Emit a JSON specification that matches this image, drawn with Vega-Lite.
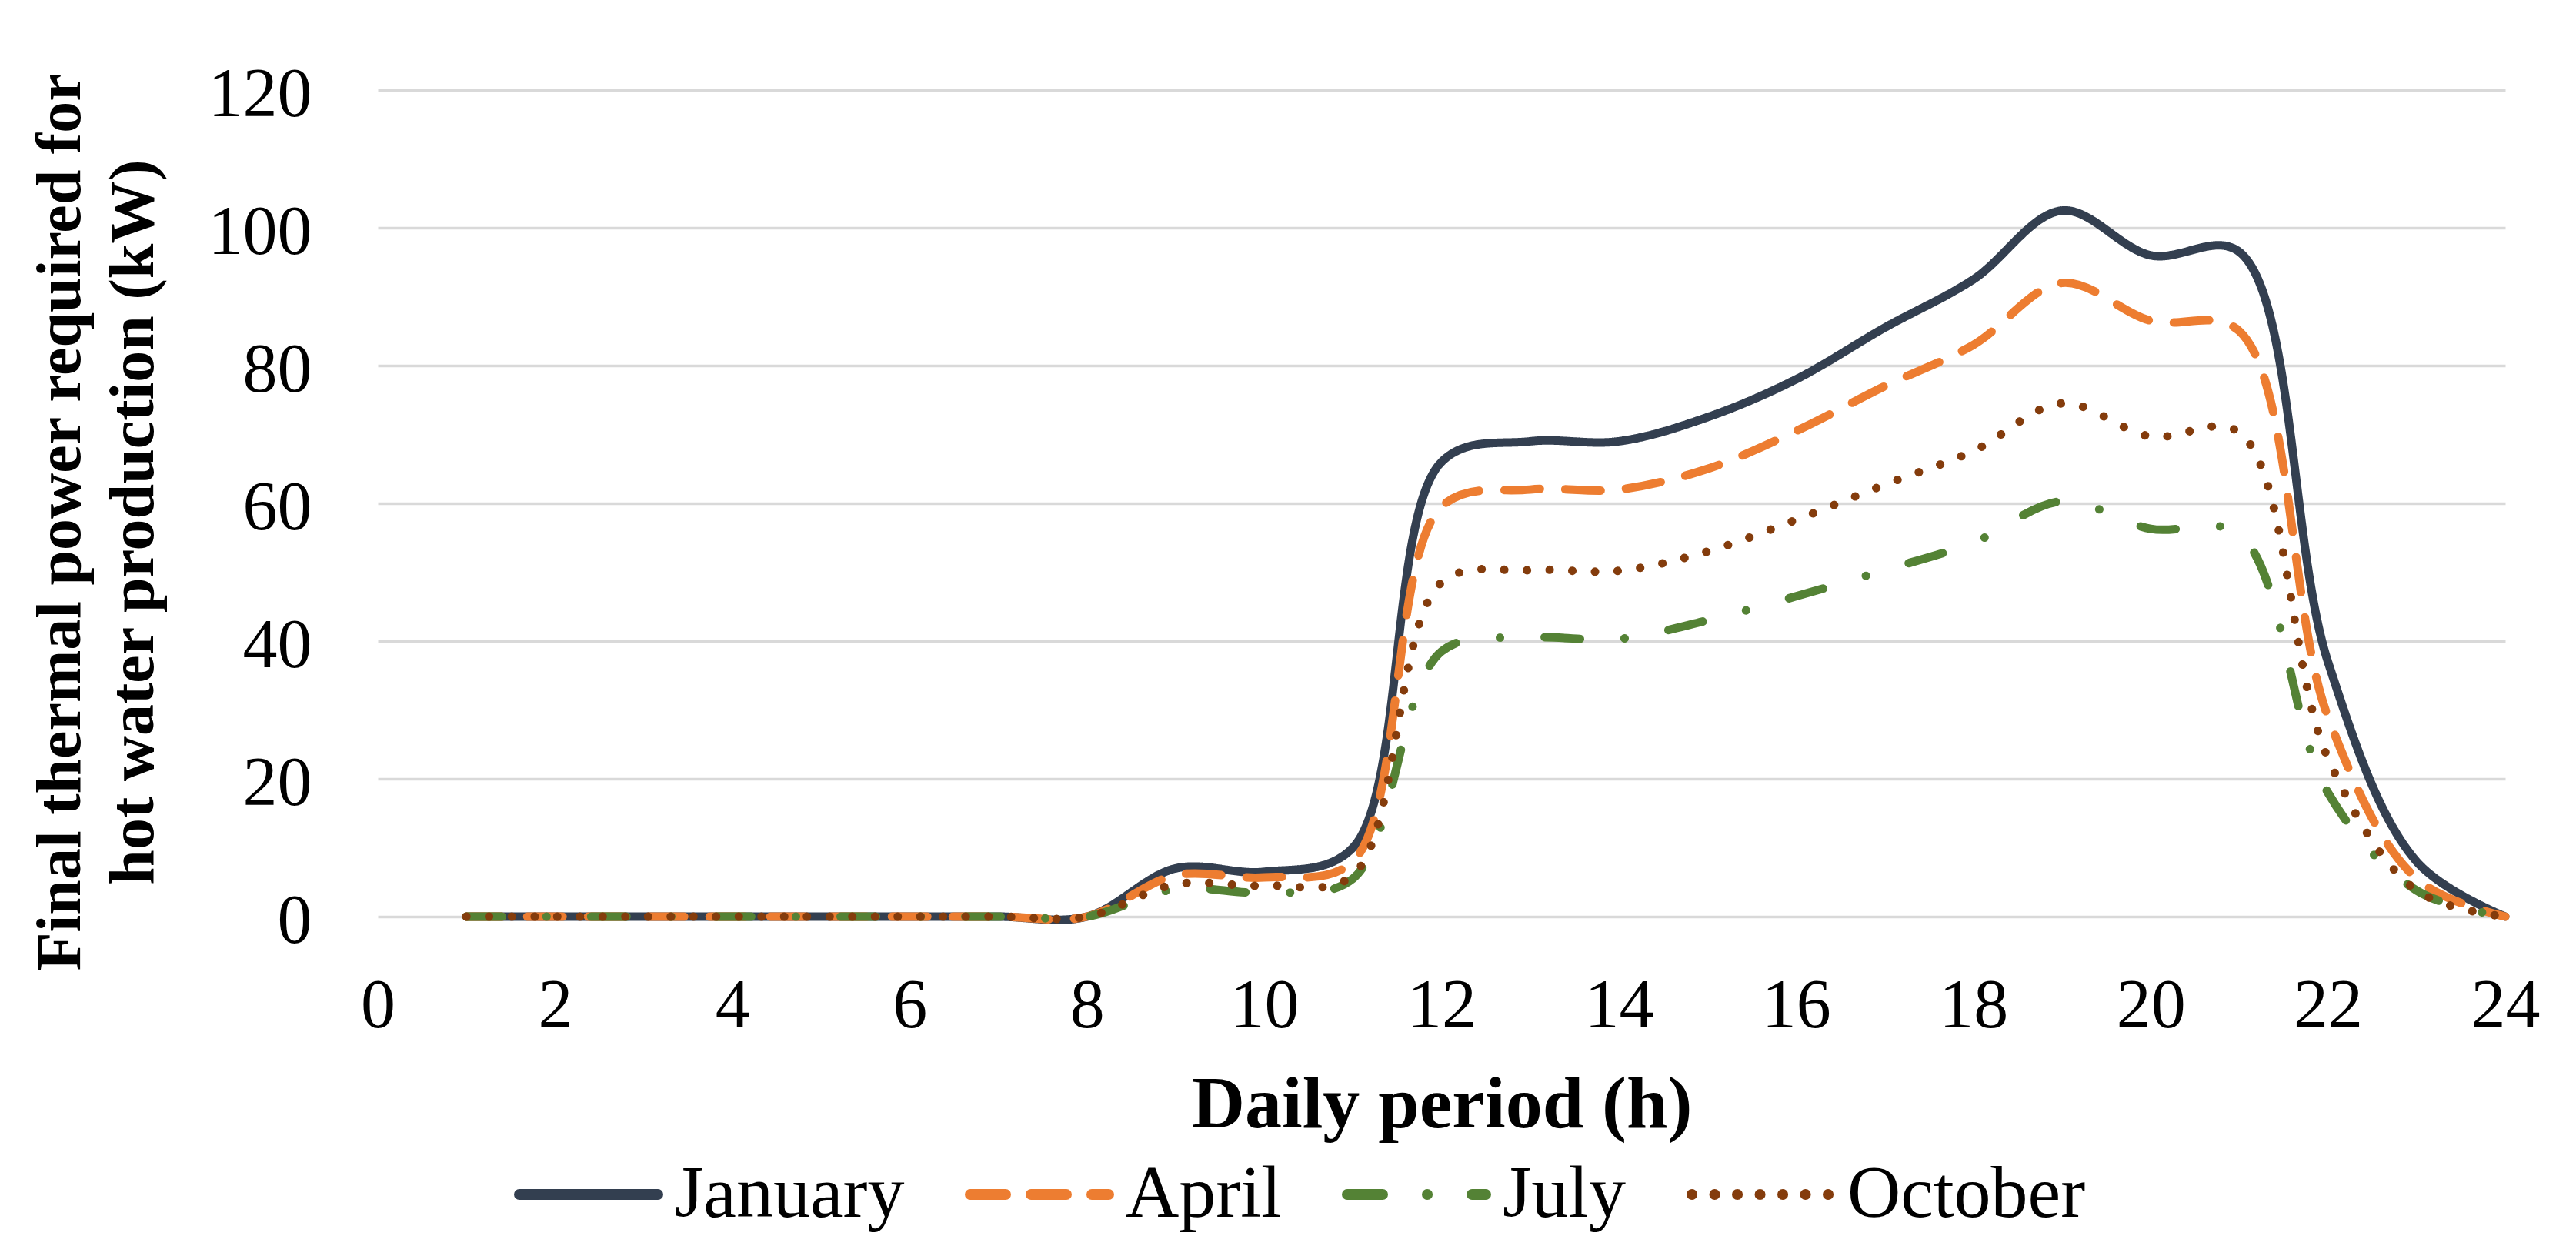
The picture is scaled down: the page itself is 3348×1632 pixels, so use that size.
{
  "$schema": "https://vega.github.io/schema/vega-lite/v6.json",
  "width": 2765,
  "height": 1074,
  "autosize": {"type": "none"},
  "padding": {"left": 491, "top": 117, "right": 92, "bottom": 441},
  "background": "white",
  "config": {"view": {"stroke": null}, "font": "Liberation Serif"},
  "data": {"values": [
    {"month":"January","hour":1,"power":0},{"month":"January","hour":2,"power":0},{"month":"January","hour":3,"power":0},{"month":"January","hour":4,"power":0},{"month":"January","hour":5,"power":0},{"month":"January","hour":6,"power":0},{"month":"January","hour":7,"power":0},{"month":"January","hour":8,"power":0},{"month":"January","hour":9,"power":7},{"month":"January","hour":10,"power":6.5},{"month":"January","hour":11,"power":10},{"month":"January","hour":12,"power":66},{"month":"January","hour":13,"power":69},{"month":"January","hour":14,"power":69},{"month":"January","hour":15,"power":72.5},{"month":"January","hour":16,"power":78},{"month":"January","hour":17,"power":85.5},{"month":"January","hour":18,"power":92.5},{"month":"January","hour":19,"power":102.5},{"month":"January","hour":20,"power":96},{"month":"January","hour":21,"power":96.5},{"month":"January","hour":22,"power":37},{"month":"January","hour":23,"power":8},{"month":"January","hour":24,"power":0},
    {"month":"April","hour":1,"power":0},{"month":"April","hour":2,"power":0},{"month":"April","hour":3,"power":0},{"month":"April","hour":4,"power":0},{"month":"April","hour":5,"power":0},{"month":"April","hour":6,"power":0},{"month":"April","hour":7,"power":0},{"month":"April","hour":8,"power":0},{"month":"April","hour":9,"power":6},{"month":"April","hour":10,"power":5.7},{"month":"April","hour":11,"power":8},{"month":"April","hour":12,"power":59.5},{"month":"April","hour":13,"power":62},{"month":"April","hour":14,"power":62},{"month":"April","hour":15,"power":65},{"month":"April","hour":16,"power":70.5},{"month":"April","hour":17,"power":77},{"month":"April","hour":18,"power":83},{"month":"April","hour":19,"power":92},{"month":"April","hour":20,"power":86.5},{"month":"April","hour":21,"power":85},{"month":"April","hour":22,"power":29},{"month":"April","hour":23,"power":5.5},{"month":"April","hour":24,"power":0},
    {"month":"July","hour":1,"power":0},{"month":"July","hour":2,"power":0},{"month":"July","hour":3,"power":0},{"month":"July","hour":4,"power":0},{"month":"July","hour":5,"power":0},{"month":"July","hour":6,"power":0},{"month":"July","hour":7,"power":0},{"month":"July","hour":8,"power":0},{"month":"July","hour":9,"power":4},{"month":"July","hour":10,"power":3.5},{"month":"July","hour":11,"power":5.5},{"month":"July","hour":12,"power":38.5},{"month":"July","hour":13,"power":40.5},{"month":"July","hour":14,"power":40.3},{"month":"July","hour":15,"power":43},{"month":"July","hour":16,"power":46.5},{"month":"July","hour":17,"power":50.3},{"month":"July","hour":18,"power":54.3},{"month":"July","hour":19,"power":60.3},{"month":"July","hour":20,"power":56.3},{"month":"July","hour":21,"power":55.5},{"month":"July","hour":22,"power":18},{"month":"July","hour":23,"power":3.8},{"month":"July","hour":24,"power":0},
    {"month":"October","hour":1,"power":0},{"month":"October","hour":2,"power":0},{"month":"October","hour":3,"power":0},{"month":"October","hour":4,"power":0},{"month":"October","hour":5,"power":0},{"month":"October","hour":6,"power":0},{"month":"October","hour":7,"power":0},{"month":"October","hour":8,"power":0},{"month":"October","hour":9,"power":4.7},{"month":"October","hour":10,"power":4.5},{"month":"October","hour":11,"power":6},{"month":"October","hour":12,"power":48.5},{"month":"October","hour":13,"power":50.3},{"month":"October","hour":14,"power":50.2},{"month":"October","hour":15,"power":53},{"month":"October","hour":16,"power":57.6},{"month":"October","hour":17,"power":62.7},{"month":"October","hour":18,"power":67.6},{"month":"October","hour":19,"power":74.5},{"month":"October","hour":20,"power":69.7},{"month":"October","hour":21,"power":70.3},{"month":"October","hour":22,"power":23},{"month":"October","hour":23,"power":3.8},{"month":"October","hour":24,"power":0}
  ]},
  "mark": {"type": "line", "interpolate": "catmull-rom", "strokeWidth": 11, "strokeCap": "round", "strokeJoin": "round"},
  "encoding": {
    "x": {
      "field": "hour", "type": "quantitative",
      "scale": {"domain": [0, 24], "nice": false, "zero": false},
      "axis": {
        "values": [0, 2, 4, 6, 8, 10, 12, 14, 16, 18, 20, 22, 24],
        "title": "Daily period (h)",
        "grid": false, "domain": false, "ticks": false, "tickSize": 0,
        "labelFontSize": 90, "labelFont": "Liberation Serif", "labelColor": "black",
        "labelBaseline": "alphabetic", "labelPadding": 143, "labelFlush": false, "labelOverlap": false,
        "titleFontSize": 96, "titleFont": "Liberation Serif", "titleFontWeight": "bold", "titleColor": "black",
        "titleBaseline": "alphabetic", "titleY": 273
      }
    },
    "y": {
      "field": "power", "type": "quantitative",
      "scale": {"domain": [0, 120], "nice": false},
      "axis": {
        "values": [0, 20, 40, 60, 80, 100, 120],
        "title": ["Final thermal power required for", "hot water production (kW)"],
        "domain": false, "ticks": false, "tickSize": 0,
        "gridColor": "#D9D9D9", "gridWidth": 3.5,
        "labelFontSize": 90, "labelFont": "Liberation Serif", "labelColor": "black",
        "labelBaseline": "alphabetic", "labelOffset": 33, "labelPadding": 86, "labelOverlap": false,
        "titleFontSize": 82, "titleFont": "Liberation Serif", "titleFontWeight": "bold", "titleColor": "black",
        "titleLineHeight": 95, "titleBaseline": "alphabetic", "titleAngle": -90, "titleAlign": "center",
        "titleX": -388, "titleY": 561
      }
    },
    "color": {
      "field": "month", "type": "nominal",
      "scale": {"domain": ["January", "April", "July", "October"], "range": ["#333F50", "#ED7D31", "#548235", "#843C0C"]},
      "legend": {
        "title": null, "orient": "none", "legendX": 177, "legendY": 1338, "direction": "horizontal",
        "symbolType": "stroke", "symbolSize": 32400, "symbolStrokeWidth": 14,
        "labelFontSize": 96, "labelFont": "Liberation Serif", "labelColor": "black", "labelLimit": 1000,
        "labelOffset": 15, "columnPadding": 57,
        "encode": {"symbols": {"update": {"strokeCap": {"value": "round"}}}}
      }
    },
    "strokeDash": {
      "field": "month", "type": "nominal",
      "scale": {"domain": ["January", "April", "July", "October"], "range": [[1, 0], [46, 33], [46, 58, 0.1, 58], [0.1, 29.4]]},
      "legend": {
        "title": null, "orient": "none", "legendX": 177, "legendY": 1338, "direction": "horizontal",
        "symbolType": "stroke", "symbolSize": 32400, "symbolStrokeWidth": 14,
        "labelFontSize": 96, "labelFont": "Liberation Serif", "labelColor": "black", "labelLimit": 1000,
        "labelOffset": 15, "columnPadding": 57,
        "encode": {"symbols": {"update": {"strokeCap": {"value": "round"}}}}
      }
    }
  }
}
